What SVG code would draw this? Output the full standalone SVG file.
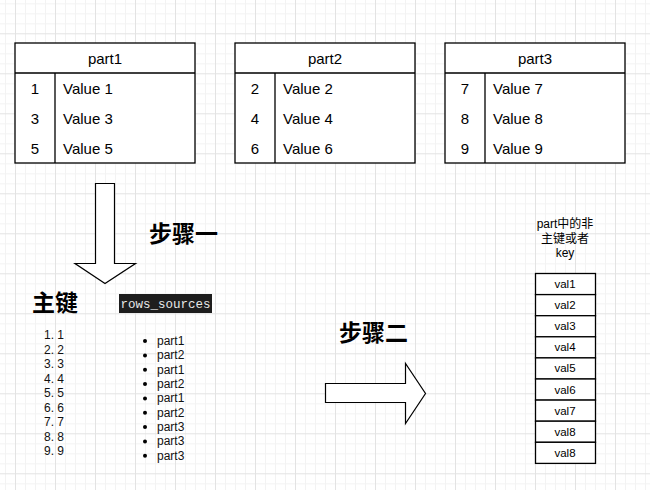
<svg xmlns="http://www.w3.org/2000/svg" width="650" height="490" viewBox="0 0 650 490">
<defs>
<pattern id="grid" x="15" y="33.3" width="40" height="40" patternUnits="userSpaceOnUse">
<path d="M10.5 0V40M20.5 0V40M30.5 0V40M0 10.5H40M0 20.5H40M0 30.5H40" stroke="#f3f3f3" stroke-width="1" fill="none"/>
<path d="M0.5 0V40M0 0.5H40" stroke="#e3e3e3" stroke-width="1" fill="none"/>
</pattern>
<style>
.box{fill:#fff;stroke:#000;stroke-width:1.3}
.ln{stroke:#000;stroke-width:1.3;fill:none}
.t{font-family:"Liberation Sans","Noto Sans CJK SC",sans-serif;font-size:15px;fill:#000}
.c{text-anchor:middle}
.s{font-family:"Liberation Sans","Noto Sans CJK SC",sans-serif;font-size:12px;fill:#111}
.v{font-family:"Liberation Sans","Noto Sans CJK SC",sans-serif;font-size:11.5px;fill:#000;text-anchor:middle}
.k{font-family:"Liberation Sans","Noto Sans CJK SC",sans-serif;font-size:12px;fill:#000;text-anchor:middle}
.h{font-family:"Liberation Sans","Noto Sans CJK SC",sans-serif;font-size:23px;font-weight:bold;fill:#000}
.arr{fill:#fff;stroke:#000;stroke-width:1.2}
</style>
</defs>
<rect width="650" height="490" fill="#fff"/>
<rect width="650" height="490" fill="url(#grid)"/>

<g id="part1">
<rect class="box" x="15" y="43" width="180" height="120"/>
<path class="ln" d="M15 73H195M55 73V163"/>
<text class="t c" x="105" y="64">part1</text>
<text class="t c" x="35" y="94">1</text><text class="t" x="63" y="94">Value 1</text>
<text class="t c" x="35" y="124">3</text><text class="t" x="63" y="124">Value 3</text>
<text class="t c" x="35" y="154">5</text><text class="t" x="63" y="154">Value 5</text>
</g>

<g id="part2">
<rect class="box" x="235" y="43" width="180" height="120"/>
<path class="ln" d="M235 73H415M275 73V163"/>
<text class="t c" x="325" y="64">part2</text>
<text class="t c" x="255" y="94">2</text><text class="t" x="283" y="94">Value 2</text>
<text class="t c" x="255" y="124">4</text><text class="t" x="283" y="124">Value 4</text>
<text class="t c" x="255" y="154">6</text><text class="t" x="283" y="154">Value 6</text>
</g>

<g id="part3">
<rect class="box" x="445" y="43" width="180" height="120"/>
<path class="ln" d="M445 73H625M485 73V163"/>
<text class="t c" x="535" y="64">part3</text>
<text class="t c" x="465" y="94">7</text><text class="t" x="493" y="94">Value 7</text>
<text class="t c" x="465" y="124">8</text><text class="t" x="493" y="124">Value 8</text>
<text class="t c" x="465" y="154">9</text><text class="t" x="493" y="154">Value 9</text>
</g>

<g id="connectors">
<path class="arr" d="M95.5 183.5H114.5V263.5H135.5L105 283.5L75 263.5H95.5Z"/>
<path class="arr" d="M325.5 383.5H405.5V363.5L425.5 393.5L405.5 423.5V402.5H325.5Z"/>
</g>

<g id="step1">
<text class="h" x="149" y="242">步骤一</text>
</g>
<g id="step2">
<text class="h" x="339" y="341">步骤二</text>
</g>

<g id="primary-key">
<text class="h" x="32" y="311">主键</text>
<g class="s">
<text x="44" y="339">1. 1</text>
<text x="44" y="353.5">2. 2</text>
<text x="44" y="368">3. 3</text>
<text x="44" y="382.5">4. 4</text>
<text x="44" y="397">5. 5</text>
<text x="44" y="411.5">6. 6</text>
<text x="44" y="426">7. 7</text>
<text x="44" y="440.5">8. 8</text>
<text x="44" y="455">9. 9</text>
</g>
</g>

<g id="rows-sources">
<rect x="119" y="294" width="93" height="19" fill="#1e1e1e"/>
<text x="120.5" y="307.5" font-family="Liberation Mono, monospace" font-size="12.5" fill="#e8e8e8">rows_sources</text>
<g fill="#000">
<circle cx="145" cy="341" r="2"/><circle cx="145" cy="355.4" r="2"/><circle cx="145" cy="369.7" r="2"/>
<circle cx="145" cy="384" r="2"/><circle cx="145" cy="398.4" r="2"/><circle cx="145" cy="412.7" r="2"/>
<circle cx="145" cy="427" r="2"/><circle cx="145" cy="441.4" r="2"/><circle cx="145" cy="455.7" r="2"/>
</g>
<g class="s">
<text x="157" y="345">part1</text>
<text x="157" y="359.4">part2</text>
<text x="157" y="373.7">part1</text>
<text x="157" y="388">part2</text>
<text x="157" y="402.4">part1</text>
<text x="157" y="416.7">part2</text>
<text x="157" y="431">part3</text>
<text x="157" y="445.4">part3</text>
<text x="157" y="459.7">part3</text>
</g>
</g>

<g id="values">
<text class="k" x="565" y="228">part中的非</text>
<text class="k" x="565" y="242.5">主键或者</text>
<text class="k" x="565" y="257">key</text>
<rect class="box" x="535.5" y="273.5" width="60" height="21.1"/>
<rect class="box" x="535.5" y="294.6" width="60" height="21.1"/>
<rect class="box" x="535.5" y="315.7" width="60" height="21.1"/>
<rect class="box" x="535.5" y="336.8" width="60" height="21.1"/>
<rect class="box" x="535.5" y="357.9" width="60" height="21.1"/>
<rect class="box" x="535.5" y="379" width="60" height="21.1"/>
<rect class="box" x="535.5" y="400.1" width="60" height="21.1"/>
<rect class="box" x="535.5" y="421.2" width="60" height="21.1"/>
<rect class="box" x="535.5" y="442.3" width="60" height="21.1"/>
<text class="v" x="565" y="288">val1</text>
<text class="v" x="565" y="309.1">val2</text>
<text class="v" x="565" y="330.2">val3</text>
<text class="v" x="565" y="351.3">val4</text>
<text class="v" x="565" y="372.4">val5</text>
<text class="v" x="565" y="393.5">val6</text>
<text class="v" x="565" y="414.6">val7</text>
<text class="v" x="565" y="435.7">val8</text>
<text class="v" x="565" y="456.8">val8</text>
</g>
</svg>
